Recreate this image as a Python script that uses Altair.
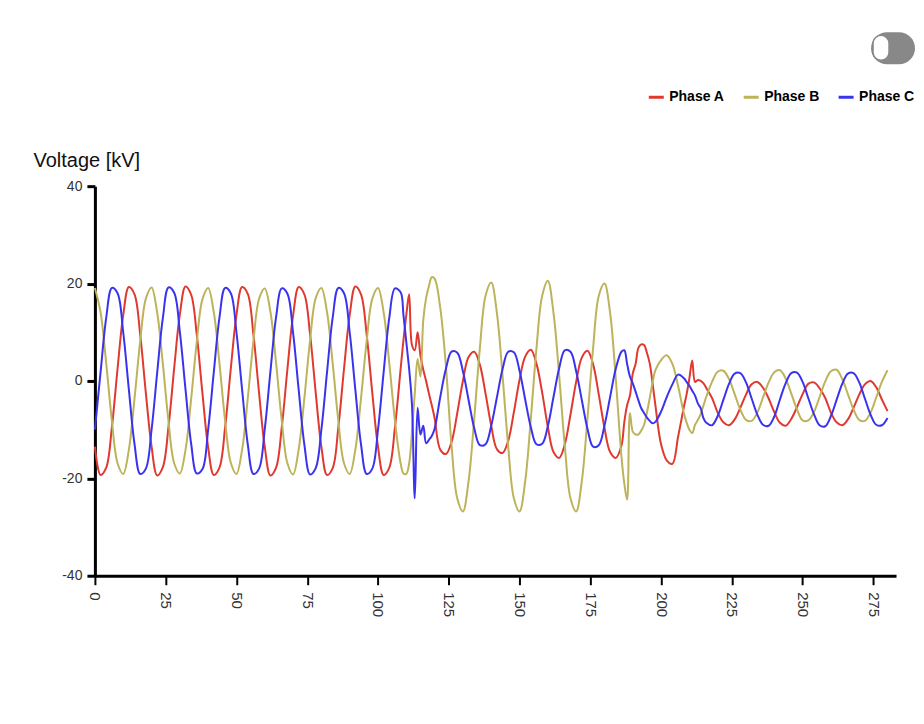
import altair as alt
import pandas as pd

# ---- data (sample index, kV) ----
sample_ms = [
    0, 2, 4, 6, 8, 10, 12, 14, 16, 18, 20, 22, 24, 26, 28, 30, 32, 34, 36, 38,
    40, 42, 44, 46, 48, 50, 52, 54, 56, 58, 60, 62, 64, 66, 68, 70, 72, 74, 76, 78,
    80, 82, 84, 86, 88, 90, 92, 94, 96, 98, 100, 102, 104, 106, 108,
    109, 110, 111, 112, 113, 114, 115, 116, 117, 118, 119, 120,
    122, 124, 126, 128, 130, 132, 134, 136, 138, 140, 142, 144, 146, 148, 150, 152,
    154, 156, 158, 160, 162, 164, 166, 168, 170, 172, 174, 176, 178, 180, 182, 184, 186,
    187, 188, 189, 190, 191, 192, 193, 194, 195, 196, 197, 198,
    200, 202, 204, 206, 208,
    209, 210, 211, 212, 213, 214, 215, 216,
    218, 220, 222, 224, 226, 228, 230, 232, 234, 236, 238, 240, 242, 244, 246, 248,
    250, 252, 254, 256, 258, 260, 262, 264, 266, 268, 270, 272, 274, 276, 278, 280,
]

phase_a = [
    -13.5, -19.3, -17.8, -9.5, 2.5, 13.5, 19.3, 17.8, 9.5, -2.5,
    -13.4, -19.4, -17.7, -9.4, 2.6, 13.6, 19.4, 17.7, 9.4, -2.6,
    -13.6, -19.3, -17.8, -9.5, 2.5, 13.5, 19.3, 17.9, 9.5, -2.5,
    -13.5, -19.4, -17.8, -9.6, 2.4, 13.4, 19.3, 17.8, 9.6, -2.4,
    -13.5, -19.3, -17.9, -9.5, 2.5, 13.5, 19.4, 17.8, 9.5, -2.5,
    -13.5, -19.3, -17.8, -9.5, 2.5,
    8.4, 13.5, 17.8, 7.4, 6.3, 10.0, 5.2, 2.3, 0.0, -2.6, -5.0, -7.6,
    -14.1, -15.0, -12.5, -6.6, 0.0, 4.9, 6.0, 3.3, -2.6, -9.2,
    -14.0, -14.8, -12.3, -6.4, 0.2, 5.0, 6.4, 3.5, -2.4, -9.4,
    -14.6, -15.8, -13.0, -6.9, -0.2, 4.8, 6.2, 3.4, -2.8, -9.6,
    -14.6, -15.8, -13.3,
    -8.5, -5.0, -3.0, 1.5, 3.5, 6.8, 7.5, 7.4, 5.8, 3.6, -0.5, -5.0,
    -13.0, -16.3, -17.0, -11.5, -5.5,
    -2.8, 0.5, 4.2, -0.2, 0.2, 0.0, -0.5, -1.5,
    -3.5, -6.5, -8.5, -9.1, -7.9, -5.5, -2.8, -0.7, -0.2, -1.4,
    -3.6, -6.4, -8.6, -9.2, -7.8, -5.4, -2.7, -0.6, -0.3, -1.5,
    -3.5, -6.5, -8.5, -9.1, -7.9, -5.5, -2.8, -0.7, 0.0, -1.3,
    -3.8, -6.2,
]

phase_b = [
    19.1, 14.1, 3.6, -8.2, -16.9, -19.1, -14.1, -3.6, 8.2, 16.9,
    19.2, 14.0, 3.5, -8.3, -16.9, -19.0, -14.2, -3.7, 8.1, 16.8,
    19.1, 14.1, 3.6, -8.2, -16.8, -19.1, -14.1, -3.6, 8.2, 16.9,
    19.0, 14.2, 3.7, -8.1, -16.9, -19.2, -14.0, -3.5, 8.3, 17.0,
    19.1, 14.1, 3.6, -8.2, -16.9, -19.1, -14.1, -3.6, 8.2, 16.9,
    19.1, 14.1, 3.6, -8.2, -16.9,
    -19.0, -19.1, -17.0, -10.5, -2.5, 4.5, 0.9, 12.5, 17.0, 19.5, 21.3, 21.0,
    15.0, 3.0, -13.4, -24.1, -26.8, -20.6, -7.7, 6.8, 17.5, 20.2,
    14.0, 1.1, -13.4, -24.1, -26.8, -20.6, -7.7, 6.8, 17.5, 20.6,
    14.0, 1.1, -13.4, -24.1, -26.8, -20.6, -7.7, 6.8, 17.5, 20.0,
    14.0, 0.5, -15.5,
    -21.0, -24.4, -6.6, -10.4, -11.0, -11.0, -10.2, -9.0, -6.5, -3.5, -0.3, 2.2,
    4.3, 5.3, 3.5, -1.0, -6.5,
    -8.5, -10.0, -10.7, -9.0, -8.0, -6.8, -5.0, -3.2,
    -0.2, 1.9, 2.1, 0.4, -2.7, -5.9, -8.0, -8.2, -6.5, -3.4,
    -0.3, 1.8, 2.2, 0.5, -2.6, -5.8, -8.1, -8.1, -6.4, -3.3,
    -0.1, 2.0, 2.3, 0.4, -2.7, -5.9, -8.0, -8.2, -6.5, -3.4,
    -0.2, 2.2,
]

phase_c = [
    -10.0, 1.8, 13.0, 19.1, 18.0, 10.0, -1.8, -13.0, -19.1, -18.0,
    -10.1, 1.7, 12.9, 19.2, 18.1, 10.1, -1.7, -12.9, -19.0, -18.1,
    -10.0, 1.8, 13.0, 19.1, 18.0, 10.0, -1.8, -13.0, -19.1, -18.0,
    -9.9, 1.9, 13.1, 19.0, 17.9, 9.9, -1.9, -13.1, -19.2, -17.9,
    -10.0, 1.8, 13.0, 19.1, 18.0, 10.0, -1.8, -13.0, -19.1, -18.0,
    -10.0, 1.8, 13.0, 19.0, 18.2,
    13.5, 8.0, 2.5, -4.8, -24.1, -5.5, -11.0, -9.2, -12.8, -12.1, -11.3, -9.8,
    -3.3, 2.5, 6.0, 5.8, 2.0, -3.9, -9.7, -13.2, -13.0, -9.2,
    -3.4, 2.4, 6.0, 5.9, 2.1, -3.8, -9.5, -13.0, -12.9, -9.3,
    -3.3, 2.6, 6.3, 6.0, 2.0, -3.9, -9.8, -13.5, -13.2, -9.2,
    -3.3, 2.5, 6.0,
    6.3, 3.5, 0.9, -0.5, -2.2, -4.0, -5.6, -6.6, -7.5, -8.2, -8.7, -8.4,
    -6.3, -3.3, -0.7, 1.3, 0.6,
    -0.2, -1.0, -2.0, -3.0, -4.6, -5.6, -7.7, -8.6,
    -9.1, -7.2, -3.9, -0.6, 1.5, 1.6, -0.3, -3.6, -6.9, -9.0,
    -9.2, -7.3, -3.8, -0.5, 1.6, 1.7, -0.2, -3.5, -6.8, -9.1,
    -9.3, -7.2, -3.9, -0.6, 1.5, 1.6, -0.3, -3.6, -6.9, -9.0,
    -9.1, -7.6,
]

phase_names = ["Phase A", "Phase B", "Phase C"]
phase_colors = ["#e0392f", "#bdb35a", "#3a33ee"]
x_ticks = [0, 25, 50, 75, 100, 125, 150, 175, 200, 225, 250, 275]
y_ticks = [-40, -20, 0, 20, 40]

assert len(sample_ms) == len(phase_a) == len(phase_b) == len(phase_c)

rows = []
for name, series in zip(phase_names, [phase_a, phase_b, phase_c]):
    for s, v in zip(sample_ms, series):
        rows.append({"sample": s, "value": v, "phase": name})
df = pd.DataFrame(rows)

FONT = "Liberation Sans, Arial, sans-serif"

lines = alt.Chart(df).mark_line(strokeWidth=2, interpolate="catmull-rom").encode(
    x=alt.X(
        "sample:Q",
        scale=alt.Scale(domain=[0, 283], nice=False, zero=False),
        axis=alt.Axis(
            values=x_ticks, title=None, grid=False,
            labelAngle=90, labelAlign="left", labelBaseline="middle",
            labelFont=FONT, labelFontSize=15, labelColor="#333333", labelPadding=7,
            tickSize=9, tickWidth=2, tickColor="black",
            domainColor="black", domainWidth=3,
        ),
    ),
    y=alt.Y(
        "value:Q",
        scale=alt.Scale(domain=[-40, 40], nice=False),
        axis=alt.Axis(
            values=y_ticks, grid=False, labelExpr="'' + datum.value",
            title="Voltage [kV]", titleAngle=0, titleAlign="left",
            titleBaseline="alphabetic", titleX=-62, titleY=-20,
            titleFont=FONT, titleFontSize=20, titleFontWeight="normal",
            titleColor="#111111",
            labelFont=FONT, labelFontSize=14, labelColor="#333333", labelPadding=5,
            tickSize=8, tickWidth=3, tickColor="black",
            domainColor="black", domainWidth=3,
        ),
    ),
    color=alt.Color(
        "phase:N",
        scale=alt.Scale(domain=phase_names, range=phase_colors),
        legend=alt.Legend(
            title=None, orient="none", legendX=553, legendY=-98,
            direction="horizontal", symbolType="stroke", symbolSize=225,
            symbolStrokeWidth=3, labelFont=FONT, labelFontSize=14,
            labelFontWeight="bold", labelColor="black", labelOffset=4,
            columnPadding=12, gridAlign="all",
        ),
    ),
)

# toggle switch decoration (top right)
toggle_bg = alt.Chart(alt.Data(values=[{}])).mark_rect(
    color="#888888", cornerRadius=16
).encode(x=alt.value(777), x2=alt.value(821), y=alt.value(-154), y2=alt.value(-122))
toggle_knob = alt.Chart(alt.Data(values=[{}])).mark_rect(
    color="white", stroke="#888888", strokeWidth=1.5, cornerRadius=8
).encode(x=alt.value(779), x2=alt.value(795), y=alt.value(-151), y2=alt.value(-126))

chart = alt.layer(lines, toggle_bg, toggle_knob).properties(
    width=802, height=390,
    autosize=alt.AutoSizeParams(type="none"),
    padding={"left": 87, "top": 178, "right": 20, "bottom": 80},
    background="white",
).configure_view(stroke=None)

chart.save("out.html", embed_options={"renderer": "svg", "actions": False})
